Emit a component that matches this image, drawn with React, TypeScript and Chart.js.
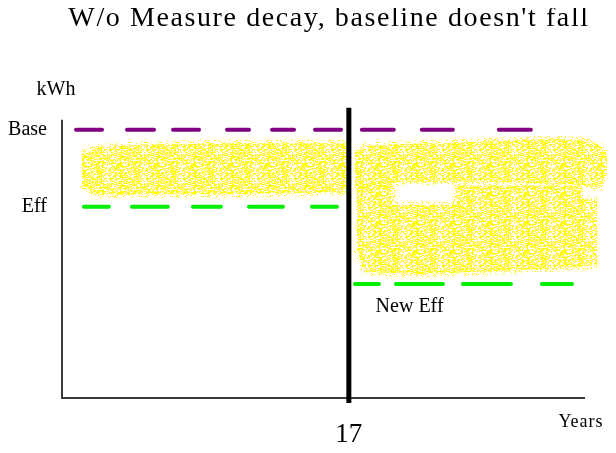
import React, { useEffect, useRef } from 'react';
import { Chart, registerables } from 'chart.js';

Chart.register(...registerables);

const SERIF = "'Liberation Serif', 'Times New Roman', serif";

// ---- values (kWh on y, years on x) ----
const BREAK_YEAR = 17;
const BASE = 100;
const EFF = 71.3;
const NEW_EFF = 42.5;

const yTickValues = [EFF, BASE];
const yTickLabels = ['Eff', 'Base'];
const xTickValues = [BREAK_YEAR];
const xTickLabels = ['17'];

const baseLeftYears = [0.83, 16.77];
const baseRightYears = [17.77, 28.4];
const effYears = [1.3, 16.77];
const newEffYears = [17.36, 30.45];
const dividerKwh = [-1.9, 108.2];

// yellow "spray" of observed usage
const leftSprayYears = [1.18, 2.2, 5, 10, 14, 17];
const leftSprayTop = [90.7, 93.5, 94.5, 95, 95, 95];
const leftSprayBottomYears = [1.18, 2.2, 5, 10, 14, 17];
const leftSprayBottom = [79.5, 75.7, 76, 76, 76.5, 76.9];

const rightTopYears = [17.37, 17.96, 20.04, 23.0, 25.96, 28.93, 30.71, 31.89, 32.3];
const rightTopUpper = [91.7, 94.0, 94.7, 95.1, 95.8, 96.6, 96.2, 94.3, 90.6];
const rightTopLowerYears = [17.37, 20.04, 25.96, 30.71, 31.89, 32.3];
const rightTopLower = [77.6, 80.6, 80.6, 79.4, 78.3, 85];

const rightLowUpperYears = [17.49, 19.5, 19.56, 23.41, 23.47, 30.71, 30.88, 31.71];
const rightLowUpper = [80.2, 80.2, 72.0, 72.0, 79.1, 79.1, 73.8, 73.8];
const rightLowLowerYears = [17.49, 17.96, 21.22, 25.96, 29.52, 31.71];
const rightLowLower = [55.2, 47.0, 46.2, 47.4, 48.5, 49.6];

const Y_MAX = 110;
const X_MAX = 32.3;
const Y_AXIS_TOP = 103.8;
const X_AXIS_END = 31.0;

function makeSpray(density: number, w: number, h: number, seed: number): CanvasPattern | string {
  const c = document.createElement('canvas');
  c.width = w;
  c.height = h;
  const g = c.getContext('2d');
  if (!g) return 'rgba(255,255,0,0.5)';
  const img = g.createImageData(w, h);
  for (let y = 0; y < h; y++) {
    for (let x = 0; x < w; x++) {
      const v = Math.abs(Math.sin(x * 12.9898 + y * 78.233 + seed) * 43758.5453) % 1;
      if (v < density) {
        const i = (y * w + x) * 4;
        img.data[i] = 255;
        img.data[i + 1] = 255;
        img.data[i + 2] = 0;
        img.data[i + 3] = 255;
      }
    }
  }
  g.putImageData(img, 0, 0);
  return g.createPattern(c, 'repeat') || 'rgba(255,255,0,0.5)';
}

const pts = (xs: number[], ys: number[]) => xs.map((x, i) => ({ x, y: ys[i] }));
const flat = (xs: number[], v: number) => xs.map((x) => ({ x, y: v }));

export default function App() {
  const ref = useRef<HTMLCanvasElement>(null);

  useEffect(() => {
    const canvas = ref.current;
    if (!canvas) return;
    const spray = makeSpray(0.5, 37, 29, 0);
    const haze = makeSpray(0.16, 31, 23, 3.7);

    // round caps add half the width to each end of a dash
    const capped = (dash: number[], w: number) => dash.map((d, i) => (i % 2 === 0 ? Math.max(d - w, 0.1) : d + w));

    const dashLine = (data: any[], color: string, dash: number[], width = 4, cap = 'round') => ({
      type: 'line',
      data,
      borderColor: color,
      borderWidth: width,
      borderDash: cap === 'round' ? capped(dash, width) : dash,
      borderCapStyle: cap,
      pointRadius: 0,
      fill: false,
    });
    const bandTop = (data: any[]) => ({
      type: 'line',
      data,
      borderColor: haze,
      borderWidth: 7,
      pointRadius: 0,
      backgroundColor: spray,
      fill: '+1',
    });
    const bandBottom = (data: any[]) => ({
      type: 'line',
      data,
      borderColor: haze,
      borderWidth: 7,
      pointRadius: 0,
      fill: false,
    });

    const decor = {
      id: 'decor',
      beforeDatasetsDraw(chart: any) {
        const { ctx, scales } = chart;
        const xs = scales.x;
        const ys = scales.y;
        ctx.save();
        ctx.strokeStyle = '#3a3a3a';
        ctx.lineWidth = 2;
        ctx.beginPath();
        ctx.moveTo(xs.getPixelForValue(0), ys.getPixelForValue(Y_AXIS_TOP));
        ctx.lineTo(xs.getPixelForValue(0), ys.getPixelForValue(0));
        ctx.lineTo(xs.getPixelForValue(X_AXIS_END), ys.getPixelForValue(0));
        ctx.stroke();
        ctx.restore();
      },
      afterDraw(chart: any) {
        const { ctx, scales } = chart;
        const xs = scales.x;
        const ys = scales.y;
        ctx.save();
        ctx.fillStyle = '#000';
        ctx.textAlign = 'center';
        ctx.textBaseline = 'alphabetic';
        try { (ctx as any).letterSpacing = '1.6px'; } catch (e) {}
        ctx.font = `28px ${SERIF}`;
        ctx.fillText("W/o Measure decay, baseline doesn't fall", 321, 18);
        try { (ctx as any).letterSpacing = '0px'; } catch (e) {}
        ctx.font = `20px ${SERIF}`;
        ctx.fillText('kWh', 48, 87);
        ctx.fillText('New Eff', xs.getPixelForValue(20.6), ys.getPixelForValue(NEW_EFF) + 28);
        try { (ctx as any).letterSpacing = '1px'; } catch (e) {}
        ctx.font = `18px ${SERIF}`;
        ctx.fillText('Years', 573, 419);
        ctx.restore();
      },
    };

    const chart = new Chart(canvas, {
      type: 'line',
      data: {
        datasets: [
          dashLine(flat(baseLeftYears, BASE), '#800080', [30, 21, 31, 15, 30, 24, 26, 19, 26, 17, 30, 20]),
          dashLine(flat(baseRightYears, BASE), '#800080', [36, 24, 35, 42]),
          dashLine(flat(effYears, EFF), '#00ee00', [29, 19, 40, 21, 32, 24, 38, 25]),
          dashLine(flat(newEffYears, NEW_EFF), '#00ee00', [28, 13, 51, 16, 52, 27, 34, 13]),
          { ...dashLine(flat([BREAK_YEAR, BREAK_YEAR], 0).map((p, i) => ({ x: p.x, y: dividerKwh[i] })), '#000', [], 5, 'butt'), clip: false },
          bandTop(pts(leftSprayYears, leftSprayTop)),
          bandBottom(pts(leftSprayBottomYears, leftSprayBottom)),
          bandTop(pts(rightTopYears, rightTopUpper)),
          bandBottom(pts(rightTopLowerYears, rightTopLower)),
          bandTop(pts(rightLowUpperYears, rightLowUpper)),
          bandBottom(pts(rightLowLowerYears, rightLowLower)),
        ] as any,
      },
      options: {
        animation: false,
        responsive: false,
        layout: { padding: { top: 95, right: 1, left: 0, bottom: 0 } },
        plugins: {
          legend: { display: false },
          title: { display: false },
          tooltip: { enabled: false },
        },
        scales: {
          x: {
            type: 'linear',
            min: 0,
            max: X_MAX,
            grid: { display: false, drawTicks: false },
            border: { display: false },
            afterBuildTicks: (s: any) => {
              s.ticks = xTickValues.map((v) => ({ value: v }));
            },
            afterFit: (s: any) => {
              s.height = 47;
            },
            ticks: {
              autoSkip: false,
              maxRotation: 0,
              padding: 21,
              color: '#000',
              font: { family: SERIF, size: 27 },
              callback: (_v: any, i: number) => xTickLabels[i],
            },
          },
          y: {
            type: 'linear',
            min: 0,
            max: Y_MAX,
            grid: { display: false, drawTicks: false },
            border: { display: false },
            afterBuildTicks: (s: any) => {
              s.ticks = yTickValues.map((v) => ({ value: v }));
            },
            afterFit: (s: any) => {
              s.width = 54;
            },
            ticks: {
              autoSkip: false,
              padding: 15,
              color: '#000',
              font: { family: SERIF, size: 20 },
              callback: (_v: any, i: number) => yTickLabels[i],
            },
          },
        },
      } as any,
      plugins: [decor],
    });
    return () => chart.destroy();
  }, []);

  return <canvas ref={ref} width={600} height={437} style={{ display: 'block' }} />;
}
